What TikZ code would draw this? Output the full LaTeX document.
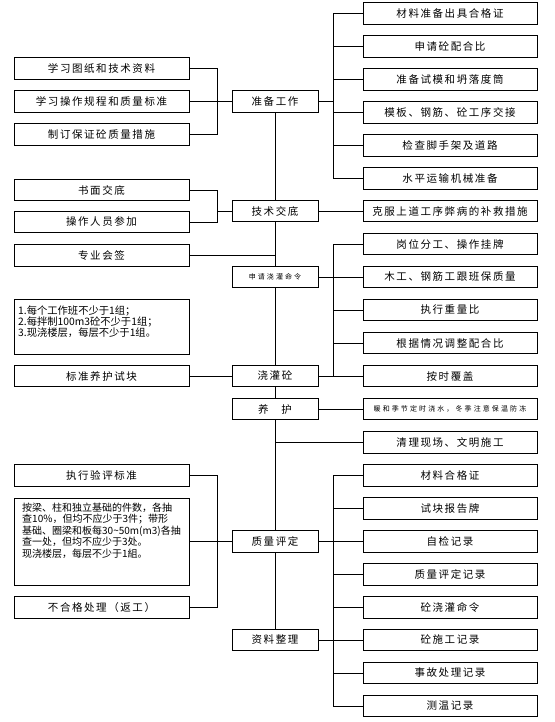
\documentclass[tikz,border=0pt]{standalone}
\usepackage{fontspec}
\setmainfont{Noto Sans CJK SC}
\newfontfamily\cjkls[LetterSpace=15]{Noto Sans CJK SC}
\newfontfamily\cjksm[LetterSpace=30]{Noto Sans CJK SC}
\begin{document}
\begin{tikzpicture}[x=1pt,y=-1pt,
  box/.style={draw=black,line width=0.8pt,fill=white,minimum height=21.5pt,inner sep=0pt,font=\cjkls\fontsize{10.5}{12}\selectfont},
  lbox/.style={box,minimum width=175pt},
  rbox/.style={box,minimum width=174pt},
  cbox/.style={box,minimum width=86pt},
  tbox/.style={draw=black,line width=0.8pt,fill=white,inner sep=0pt,anchor=north west},
  conn/.style={draw=black,line width=0.8pt}]
\useasboundingbox (0,0) rectangle (554,722);
% left column
\node[lbox] (L1) at (101.5,68.5) {学习图纸和技术资料};
\node[lbox] (L2) at (101.5,101.5) {学习操作规程和质量标准};
\node[lbox] (L3) at (101.5,134.5) {制订保证砼质量措施};
\node[lbox] (T1) at (101.5,190) {书面交底};
\node[lbox] (T2) at (101.5,222) {操作人员参加};
\node[lbox] (H) at (101.5,255.5) {专业会签};
\node[tbox,minimum width=175pt,minimum height=55pt] (N1) at (14,299) {};
\node[anchor=north west,inner sep=0pt,align=left,font=\fontsize{10.3}{11.2}\selectfont] (N1t) at (18,305.5) {1.每个工作班不少于1组；\\2.每拌制100m3砼不少于1组；\\3.现浇楼层，每层不少于1组。};
\node[lbox] (BY) at (101.5,376) {标准养护试块};
\node[lbox] (E1) at (101.5,475.5) {执行验评标准};
\node[tbox,minimum width=175pt,minimum height=87pt] (E2) at (14,498) {};
\node[anchor=north west,inner sep=0pt,align=left,font=\fontsize{10}{11.6}\selectfont] (E2t) at (22,502.5) {按梁、柱和独立基础的件数，各抽\\查10\%，但均不应少于3件；带形\\基础、圈梁和板每30\textasciitilde50m(m3)各抽\\查一处，但均不应少于3处。\\现浇楼层，每层不少于1組。};
\node[lbox] (E3) at (101.5,607.5) {不合格处理（返工）};
% center column
\node[cbox] (P) at (275,101.5) {准备工作};
\node[cbox] (T) at (275,211) {技术交底};
\node[cbox,font=\cjksm\fontsize{7}{8}\selectfont] (S) at (275,277) {申请浇灌命令};
\node[cbox] (G) at (275,376) {浇灌砼};
\node[cbox] (Y) at (275,409) {养\hspace{1.2em}护};
\node[cbox] (Q) at (275,541.5) {质量评定};
\node[cbox] (Z) at (275,640) {资料整理};
% right column
\node[rbox] (R1) at (450,13.5) {材料准备出具合格证};
\node[rbox] (R2) at (450,46.5) {申请砼配合比};
\node[rbox] (R3) at (450,79.5) {准备试模和坍落度筒};
\node[rbox] (R4) at (450,112.5) {模板、钢筋、砼工序交接};
\node[rbox] (R5) at (450,145.5) {检查脚手架及道路};
\node[rbox] (R6) at (450,178.5) {水平运输机械准备};
\node[rbox] (R7) at (450,211) {克服上道工序弊病的补救措施};
\node[rbox] (R8) at (450,244) {岗位分工、操作挂牌};
\node[rbox] (R9) at (450,277) {木工、钢筋工跟班保质量};
\node[rbox] (R10) at (450,310) {执行重量比};
\node[rbox] (R11) at (450,343) {根据情况调整配合比};
\node[rbox] (R12) at (450,376) {按时覆盖};
\node[rbox,font=\cjksm\fontsize{7}{8}\selectfont] (R13) at (450,409) {暖和季节定时浇水，冬季注意保温防冻};
\node[rbox] (R14) at (450,442.5) {清理现场、文明施工};
\node[rbox] (R15) at (450,475.5) {材料合格证};
\node[rbox] (R16) at (450,508.5) {试块报告牌};
\node[rbox] (R17) at (450,541.5) {自检记录};
\node[rbox] (R18) at (450,574.5) {质量评定记录};
\node[rbox] (R19) at (450,607.5) {砼浇灌命令};
\node[rbox] (R20) at (450,640) {砼施工记录};
\node[rbox] (R21) at (450,673) {事故处理记录};
\node[rbox] (R22) at (450,706) {测温记录};
\coordinate (lbx) at (217,0);
\coordinate (rbx) at (333,0);
% spine
\draw[conn] (P.south) -- (T.north);
\draw[conn] (T.south) -- (S.north);
\draw[conn] (S.south) -- (G.north);
\draw[conn] (G.south) -- (Y.north);
\draw[conn] (Y.south) -- (Q.north);
\draw[conn] (Q.south) -- (Z.north);
% left brackets
\draw[conn] (L1.east) -- (L1.east -| lbx) -- (L3.east -| lbx) -- (L3.east);
\draw[conn] (L2.east) -- (P.west);
\draw[conn] (T1.east) -- (T1.east -| lbx) -- (T2.east -| lbx) -- (T2.east);
\draw[conn] (T.west -| lbx) -- (T.west);
\draw[conn] (H.east) -- (H.east -| P.south);
\draw[conn] (BY.east) -- (G.west);
\draw[conn] (E1.east) -- (E1.east -| lbx) -- (E3.east -| lbx) -- (E3.east);
\draw[conn] (E2.east |- Q.west) -- (Q.west);
% right brackets
\draw[conn] (R1.west) -- (R1.west -| rbx) -- (R6.west -| rbx) -- (R6.west);
\foreach \k in {2,3,4,5} \draw[conn] (R\k.west -| rbx) -- (R\k.west);
\draw[conn] (P.east) -- (P.east -| rbx);
\draw[conn] (T.east) -- (R7.west);
\draw[conn] (R8.west) -- (R8.west -| rbx) -- (R12.west -| rbx) -- (R12.west);
\foreach \k in {9,10,11} \draw[conn] (R\k.west -| rbx) -- (R\k.west);
\draw[conn] (S.east) -- (S.east -| rbx);
\draw[conn] (G.east) -- (G.east -| rbx);
\draw[conn] (Y.east) -- (R13.west);
\draw[conn] (R14.west -| Y.south) -- (R14.west);
\draw[conn] (R15.west) -- (R15.west -| rbx) -- (R22.west -| rbx) -- (R22.west);
\foreach \k in {16,17,18,19,20,21} \draw[conn] (R\k.west -| rbx) -- (R\k.west);
\draw[conn] (Q.east) -- (Q.east -| rbx);
\draw[conn] (Z.east) -- (Z.east -| rbx);
\end{tikzpicture}
\end{document}
